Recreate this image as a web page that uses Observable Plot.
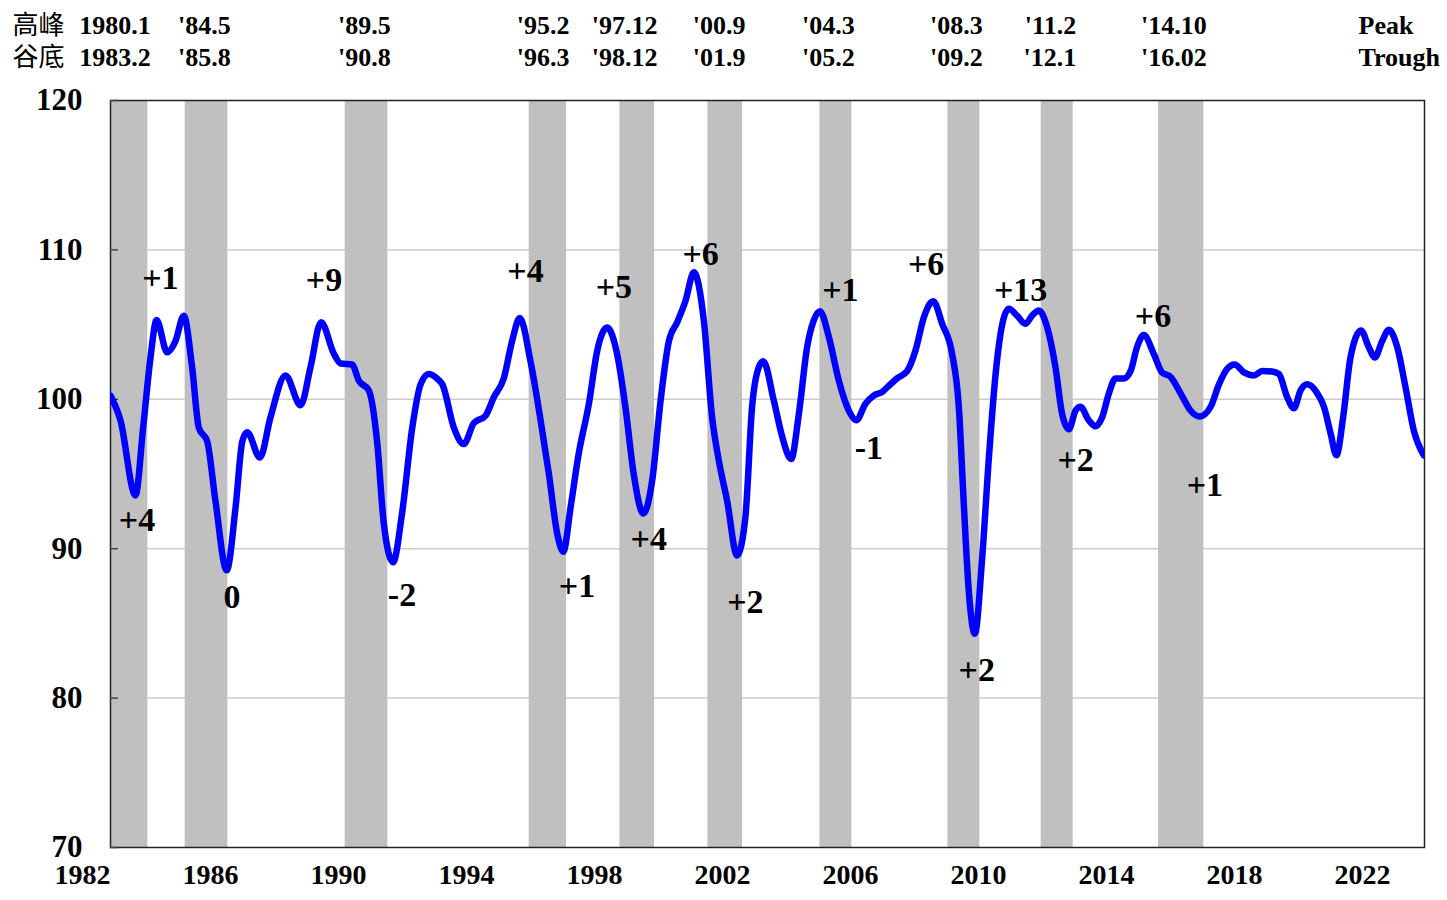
<!DOCTYPE html>
<html><head><meta charset="utf-8">
<script src="https://cdn.jsdelivr.net/npm/d3@7"></script>
<script src="https://cdn.jsdelivr.net/npm/@observablehq/plot@0.6"></script>
<style>body{margin:0;background:#fff} #chart svg{display:block}</style>
</head><body><div id="chart"></div>
<script>
// Leading index series (decimal year, value)
const times = [1982.00,1982.31,1982.78,1983.02,1983.25,1983.44,1983.77,1984.03,1984.29,1984.55,1984.76,1985.02,1985.28,1985.63,1985.91,1986.12,1986.27,1986.67,1987.00,1987.47,1987.94,1988.25,1988.58,1988.98,1989.19,1989.55,1989.76,1990.07,1990.33,1990.54,1990.83,1991.11,1991.43,1991.69,1991.95,1992.25,1992.37,1992.73,1993.04,1993.35,1993.72,1993.98,1994.29,1994.55,1994.79,1995.12,1995.44,1995.70,1995.96,1996.15,1996.38,1996.63,1996.95,1997.21,1997.52,1997.83,1998.09,1998.35,1998.65,1998.93,1999.19,1999.45,1999.71,1999.97,2000.23,2000.54,2000.80,2001.01,2001.27,2001.58,2001.84,2002.05,2002.26,2002.40,2002.73,2002.99,2003.27,2003.51,2003.77,2003.98,2004.17,2004.45,2004.76,2005.07,2005.31,2005.59,2005.85,2006.12,2006.32,2006.58,2006.90,2007.16,2007.42,2007.71,2007.99,2008.30,2008.51,2008.67,2008.82,2009.01,2009.24,2009.45,2009.66,2009.87,2010.07,2010.33,2010.59,2010.80,2011.01,2011.27,2011.53,2011.74,2011.95,2012.16,2012.31,2012.57,2012.78,2012.99,2013.20,2013.41,2013.67,2013.88,2014.08,2014.29,2014.60,2014.86,2015.13,2015.44,2015.75,2016.04,2016.38,2016.64,2016.90,2017.13,2017.42,2017.73,2017.99,2018.30,2018.51,2018.77,2018.98,2019.19,2019.40,2019.71,2019.92,2020.13,2020.31,2020.52,2020.75,2021.08,2021.32,2021.51,2021.74,2021.95,2022.21,2022.47,2022.73,2023.04];
const values = [100.25,98.6,93.56,98.1,102.8,105.3,103.15,103.9,105.6,102.15,98.1,97.2,93.2,88.55,92.8,97.2,97.8,96.1,98.8,101.6,99.6,102.15,105.16,103.05,102.4,102.33,101.25,100.6,97.2,91.7,89.1,92.35,98.1,101.0,101.7,101.3,101.0,98.1,97.0,98.4,98.9,100.15,101.4,103.9,105.45,102.6,98.6,95.0,91.0,89.8,92.8,96.35,99.7,103.25,104.8,103.05,99.5,95.0,92.35,94.6,99.9,103.9,105.16,106.6,108.5,105.3,98.8,95.9,93.2,89.55,92.1,99.5,102.15,102.55,99.9,97.5,96.0,99.0,103.5,105.3,105.9,104.16,101.25,99.25,98.6,99.7,100.25,100.5,100.9,101.4,101.9,103.3,105.5,106.57,105.05,103.05,99.5,92.8,87.2,84.3,89.4,96.1,101.7,105.05,106.06,105.6,105.05,105.6,105.94,104.83,102.15,99.0,98.0,99.25,99.5,98.6,98.2,98.8,100.4,101.4,101.4,101.9,103.5,104.3,103.05,101.8,101.5,100.4,99.25,98.85,99.5,101.0,102.05,102.33,101.8,101.6,101.9,101.86,101.7,100.15,99.4,100.6,101.0,100.4,99.5,97.7,96.25,98.8,102.8,104.6,103.5,102.8,103.9,104.65,103.5,100.8,97.9,96.25];

// Business cycle peaks / troughs (year.month)
const peaks   = ["1980.1","1984.5","1989.5","1995.2","1997.12","2000.9","2004.3","2008.3","2011.2","2014.10"];
const troughs = ["1983.2","1985.8","1990.8","1996.3","1998.12","2001.9","2005.2","2009.2","2012.1","2016.02"];
const peakLabels   = ["1980.1","'84.5","'89.5","'95.2","'97.12","'00.9","'04.3","'08.3","'11.2","'14.10"];
const troughLabels = ["1983.2","'85.8","'90.8","'96.3","'98.12","'01.9","'05.2","'09.2","'12.1","'16.02"];

// Lead-month annotations
const annoText = ["+4","+1","0","+9","-2","+4","+1","+5","+4","+6","+2","+1","-1","+6","+2","+13","+2","+6","+1"];
const annoX = [1982.83,1983.56,1985.80,1988.67,1991.11,1994.97,1996.58,1997.73,1998.82,2000.44,2001.84,2004.81,2005.70,2007.49,2009.07,2010.44,2012.16,2014.58,2016.20];
const annoY = [91.9,108.1,86.75,107.95,86.9,108.6,87.5,107.5,90.67,109.7,86.43,107.3,96.7,109.07,81.85,107.3,95.9,105.6,94.23];

const xTicks = [1982,1986,1990,1994,1998,2002,2006,2010,2014,2018,2022];
const yTicks = [70,80,90,100,110,120];
const gridY = [80,90,100,110];

const series = times.map((t, i) => ({t, v: values[i]}));
const ym = s => { const [y, m] = s.split(".").map(Number); return {y, m}; };
const cycles = peaks.map((p, i) => {
  const a = ym(p), b = ym(troughs[i]);
  return {start: a.y + (a.m - 1) / 12, end: b.y + b.m / 12, peak: peakLabels[i], trough: troughLabels[i]};
});
const annos = annoText.map((s, i) => ({s, x: annoX[i], y: annoY[i]}));

const serif = "'Liberation Serif', 'Times New Roman', serif";
const cjk = "'Noto Sans CJK TC', 'Noto Sans CJK SC', sans-serif";

const chart = Plot.plot({
  width: 1447, height: 900,
  marginLeft: 110, marginRight: 23, marginTop: 100, marginBottom: 53,
  x: {domain: [1982, 2023.0625], axis: null},
  y: {domain: [70, 120], axis: null},
  style: {background: "#fff", fontFamily: serif, overflow: "visible"},
  marks: [
    Plot.ruleY(gridY, {stroke: "#cccccc", strokeWidth: 1.5}),
    Plot.rect(cycles, {x1: "start", x2: "end", fill: "#c0c0c0", clip: true}),
    Plot.frame({stroke: "#222", strokeWidth: 1.5}),
    Plot.axisY({ticks: yTicks, tickSize: 8, dx: 8, tickFormat: () => "", stroke: "#444", strokeWidth: 1.5}),
    Plot.line(series, {x: "t", y: "v", stroke: "#0000ff", strokeWidth: 6.5, curve: "monotone-x", clip: true, strokeLinejoin: "round", strokeLinecap: "round"}),
    Plot.text(annos, {x: "x", y: "y", text: "s", fontSize: 34, fontWeight: "bold", fill: "#000", fontFamily: serif}),
    // y tick labels
    Plot.text(yTicks, {y: d => d, text: d => String(d), frameAnchor: "left", textAnchor: "end", dx: -28, fontSize: 31, fontWeight: "bold", fill: "#000", fontFamily: serif}),
    // x tick labels
    Plot.text(xTicks, {x: d => d, text: d => String(d), frameAnchor: "bottom", textAnchor: "end", lineAnchor: "bottom", dy: 36, fontSize: 28, fontWeight: "bold", fill: "#000", fontFamily: serif}),
    // header: peaks / troughs
    Plot.text(cycles, {x: "end", text: "peak", frameAnchor: "top", textAnchor: "end", lineAnchor: "bottom", dx: 3, dy: -67, fontSize: 26, fontWeight: "bold", fill: "#000", fontFamily: serif}),
    Plot.text(cycles, {x: "end", text: "trough", frameAnchor: "top", textAnchor: "end", lineAnchor: "bottom", dx: 3, dy: -35, fontSize: 26, fontWeight: "bold", fill: "#000", fontFamily: serif}),
    Plot.text(["高峰"], {frameAnchor: "top-left", textAnchor: "start", lineAnchor: "bottom", dx: -98, dy: -67, fontSize: 26, fill: "#000", fontFamily: cjk}),
    Plot.text(["谷底"], {frameAnchor: "top-left", textAnchor: "start", lineAnchor: "bottom", dx: -98, dy: -35, fontSize: 26, fill: "#000", fontFamily: cjk}),
    Plot.text(["Peak"], {frameAnchor: "top-right", textAnchor: "start", lineAnchor: "bottom", dx: -66, dy: -67, fontSize: 26, fontWeight: "bold", fill: "#000", fontFamily: serif}),
    Plot.text(["Trough"], {frameAnchor: "top-right", textAnchor: "start", lineAnchor: "bottom", dx: -66, dy: -35, fontSize: 26, fontWeight: "bold", fill: "#000", fontFamily: serif})
  ]
});
document.getElementById("chart").append(chart);
</script>
</body></html>
